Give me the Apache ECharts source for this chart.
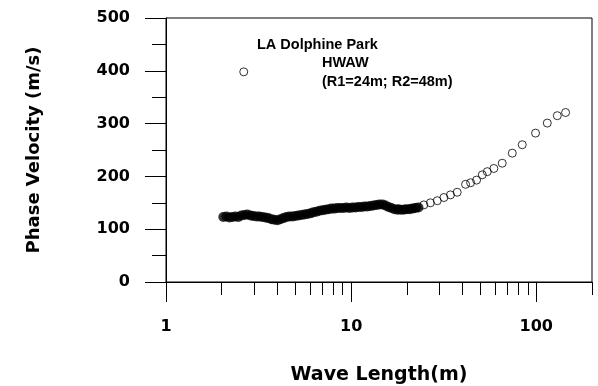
<!DOCTYPE html>
<html>
<head>
<meta charset="utf-8">
<script src="https://cdn.jsdelivr.net/npm/echarts@6/dist/echarts.min.js"></script>
<style>
    html, body { margin: 0; padding: 0; background: #fff; }
    #chart { width: 598px; height: 386px; }
</style>
</head>
<body>
<div id="chart"></div>
<script>
// filled symbols: [wave length (m), phase velocity (m/s)]
const filledPoints = [
    [2.04, 123], [2.12, 124], [2.20, 122], [2.28, 123], [2.37, 124], [2.46, 123],
    [2.55, 126], [2.65, 127], [2.75, 128], [2.86, 126], [2.96, 125], [3.08, 124],
    [3.19, 124], [3.31, 123], [3.44, 122], [3.57, 121], [3.71, 119], [3.85, 118],
    [4.00, 117], [4.15, 119], [4.31, 121], [4.47, 123], [4.64, 124], [4.82, 124],
    [5.00, 125], [5.19, 126], [5.39, 127], [5.59, 128], [5.80, 129], [6.03, 130],
    [6.26, 132], [6.49, 133], [6.74, 135], [7.00, 136], [7.26, 137], [7.54, 138],
    [7.83, 139], [8.12, 139], [8.43, 140], [8.75, 140], [9.09, 140], [9.43, 141],
    [9.79, 140], [10.16, 141], [10.55, 141], [10.95, 142], [11.37, 142], [11.80, 143],
    [12.25, 143], [12.72, 144], [13.20, 145], [13.71, 146], [14.22, 147], [14.77, 147],
    [15.33, 145], [15.91, 142], [16.51, 140], [17.14, 138], [17.80, 137], [18.48, 137],
    [19.18, 137], [19.91, 138], [20.66, 138], [21.45, 139], [22.27, 140], [23.11, 141]
]

// open symbols
const openPoints = [
    [2.63, 398],
    [18.0, 139], [19.4, 138], [20.9, 139], [22.5, 141], [24.7, 146], [26.8, 150],
    [29.2, 154], [31.7, 160], [34.4, 165], [37.4, 170], [41.5, 185], [44.2, 188],
    [47.6, 193], [51.1, 203], [54.4, 209], [59.0, 215], [65.5, 225], [74.2, 244],
    [84.0, 260], [99.1, 282], [114.7, 301], [129.9, 315], [144.0, 321]
]

const xMajorTicks = [1, 10, 100]
const xMinorTicks = [2, 3, 4, 5, 6, 7, 8, 9, 20, 30, 40, 50, 60, 70, 80, 90, 200]

const noteLines = ["LA Dolphine Park", "HWAW", "(R1=24m; R2=48m)"]

const tickFont = { fontFamily: "DejaVu Sans", fontWeight: "bold", fontSize: 16, color: "#000" }
const black = { color: "#000", width: 1 }

const chart = echarts.init(document.getElementById("chart"))
chart.setOption({
    animation: false,
    backgroundColor: "#fff",
    grid: {
        left: 166, right: 6, top: 18, bottom: 104,
        outerBoundsMode: "none",
        show: true, borderColor: "#000", borderWidth: 1
    },
    xAxis: [
        {
            type: "log", logBase: 10, min: 1, max: 200,
            name: "Wave Length(m)", nameLocation: "middle", nameGap: 84,
            nameTextStyle: { fontFamily: "DejaVu Sans", fontWeight: "bold", fontSize: 19, color: "#000" },
            axisLine: { lineStyle: black },
            axisTick: { customValues: xMajorTicks, length: 20, lineStyle: black },
            axisLabel: Object.assign({ customValues: xMajorTicks, margin: 37 }, tickFont),
            splitLine: { show: false }
        },
        {
            // second axis only for the short ticks between decades
            type: "log", logBase: 10, min: 1, max: 200, position: "bottom",
            axisLine: { show: false },
            axisTick: { customValues: xMinorTicks, length: 13, lineStyle: black },
            axisLabel: { show: false },
            splitLine: { show: false }
        }
    ],
    yAxis: {
        type: "value", min: 0, max: 500, interval: 100,
        name: "Phase Velocity (m/s)", nameLocation: "middle", nameGap: 123,
        nameTextStyle: { fontFamily: "DejaVu Sans", fontWeight: "bold", fontSize: 18, color: "#000" },
        axisLine: { show: true, lineStyle: black },
        axisTick: { length: 21, lineStyle: black },
        minorTick: { show: true, splitNumber: 2, length: 14, lineStyle: black },
        axisLabel: Object.assign({ margin: 36 }, tickFont),
        splitLine: { show: false },
        minorSplitLine: { show: false }
    },
    graphic: [
        { type: "text", left: 257, top: 37, style: { text: noteLines[0], font: "bold 14.5px 'Liberation Sans'", fill: "#000" } },
        { type: "text", left: 322, top: 55, style: { text: noteLines[1], font: "bold 14.5px 'Liberation Sans'", fill: "#000" } },
        { type: "text", left: 322, top: 74, style: { text: noteLines[2], font: "bold 14.5px 'Liberation Sans'", fill: "#000" } }
    ],
    series: [
        {
            type: "scatter", xAxisIndex: 0, data: filledPoints,
            symbol: "circle", symbolSize: 10,
            itemStyle: { color: "#000" }
        },
        {
            type: "scatter", xAxisIndex: 0, data: openPoints,
            symbol: "circle", symbolSize: 8,
            itemStyle: { color: "transparent", borderColor: "#000", borderWidth: 1 }
        }
    ]
})
</script>
</body>
</html>
